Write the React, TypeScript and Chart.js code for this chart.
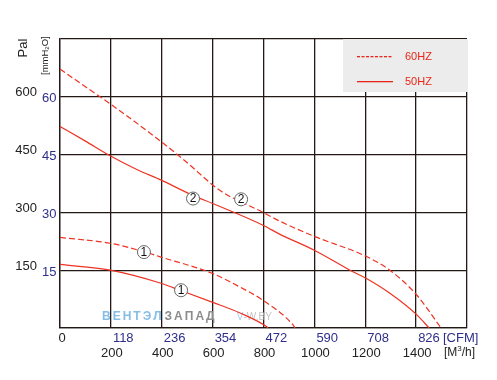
import React, { useEffect, useRef } from "react";
import { Chart, registerables } from "chart.js";
Chart.register(...registerables);

// ---- data ----
const m3hTicks = [200, 400, 600, 800, 1000, 1200, 1400];
const cfmLabels = ["118", "236", "354", "472", "590", "708", "826"];
const mmTicks = [15, 30, 45, 60];
const paLabels = ["150", "300", "450", "600"];

const flow60Hz2 = [0, 100, 197, 397, 491, 629, 798, 865, 999, 1203, 1297, 1403, 1498];
const pres60Hz2 = [67.2, 62.6, 58.2, 48.4, 43.4, 35.7, 30.0, 27.7, 23.8, 18.6, 15.0, 8.5, 0];

const flow50Hz2 = [0, 100, 197, 300, 400, 523, 600, 800, 865, 1000, 1140, 1203, 1297, 1403, 1451];
const pres50Hz2 = [52.3, 48.5, 44.7, 41.2, 38.3, 34.4, 32.3, 26.6, 24.3, 20.2, 15.0, 12.9, 9.0, 3.4, 0];

const flow60Hz1 = [0, 197, 335, 397, 598, 708, 798, 916, 924];
const pres60Hz1 = [23.5, 22.0, 19.7, 18.4, 14.2, 10.6, 7.2, 0.8, 0];

const flow50Hz1 = [0, 197, 397, 472, 598, 708, 813, 818];
const pres50Hz1 = [16.5, 15.0, 11.6, 9.8, 6.7, 3.9, 0.3, 0];

const curveTags = ["2", "2", "1", "1"];
const curveTagFlow = [523, 712, 330, 476];
const curveTagPres = [33.6, 33.4, 19.7, 9.8];

const legendLabels = ["60HZ", "50HZ"];

const RED = "#ee3322";
const GRID = "#231815";
const BLUE = "#2e2e8c";
const FONT = "'Liberation Sans', Arial, sans-serif";

const pts = (xs: number[], ys: number[]) => xs.map((x, i) => ({ x, y: ys[i] }));

const overlay = {
  id: "overlay",
  beforeDatasetsDraw(chart: any) {
    const ctx = chart.ctx;
    const xs = chart.scales.x;
    const ys = chart.scales.y;
    ctx.save();
    ctx.font = `bold 12px ${FONT}`;
    ctx.textBaseline = "middle";
    ctx.textAlign = "left";
    const wy = ys.getPixelForValue(0) - 11;
    let wx = xs.getPixelForValue(165);
    ctx.fillStyle = "#86bde6";
    for (const ch of "ВЕНТЭЛ".split("")) { ctx.fillText(ch, wx, wy); wx += ctx.measureText(ch).width + 2.0; }
    wx += 1;
    ctx.fillStyle = "#8c8c8c";
    for (const ch of "ЗАПАД".split("")) { ctx.fillText(ch, wx, wy); wx += ctx.measureText(ch).width + 2.0; }
    ctx.font = `10px ${FONT}`;
    let vx = xs.getPixelForValue(695);
    ctx.fillStyle = "#a9cdec";
    ctx.fillText("V", vx, wy);
    vx += ctx.measureText("V").width;
    ctx.fillStyle = "#c4c4c4";
    ctx.fillText("-W.BY", vx, wy);
    ctx.restore();
  },
  afterDraw(chart: any) {
    const ctx = chart.ctx;
    const xs = chart.scales.x;
    const ys = chart.scales.y;
    const area = chart.chartArea;
    ctx.save();
    // y labels
    ctx.font = `13px ${FONT}`;
    ctx.textBaseline = "middle";
    mmTicks.forEach((v, i) => {
      const py = ys.getPixelForValue(v);
      ctx.fillStyle = "#222";
      ctx.textAlign = "right";
      ctx.fillText(paLabels[i], 37, py - 4);
      ctx.fillStyle = BLUE;
      ctx.textAlign = "left";
      ctx.fillText(String(v), 42, py + 2);
    });
    // x labels
    const rowCfm = area.bottom + 10;
    const rowM3 = area.bottom + 25;
    ctx.fillStyle = "#222";
    ctx.textAlign = "center";
    ctx.fillText("0", xs.getPixelForValue(0) + 2, rowCfm);
    m3hTicks.forEach((v, i) => {
      const px = xs.getPixelForValue(v);
      ctx.fillStyle = "#222";
      ctx.textAlign = "center";
      ctx.fillText(String(v), px + 1, rowM3);
      ctx.fillStyle = BLUE;
      ctx.textAlign = "left";
      ctx.fillText(cfmLabels[i], px + 2, rowCfm);
    });
    ctx.textAlign = "left";
    ctx.fillStyle = BLUE;
    ctx.fillText("[CFM]", area.right - 24, rowCfm);
    ctx.fillStyle = "#222";
    ctx.font = `12px ${FONT}`;
    const ux = area.right - 23;
    ctx.fillText("[M", ux, rowM3);
    let w = ctx.measureText("[M").width;
    ctx.font = `8px ${FONT}`;
    ctx.fillText("3", ux + w, rowM3 - 4);
    w += ctx.measureText("3").width;
    ctx.font = `12px ${FONT}`;
    ctx.fillText("/h]", ux + w, rowM3);
    // axis titles
    ctx.save();
    ctx.translate(23, 48);
    ctx.rotate(-Math.PI / 2);
    ctx.font = `13px ${FONT}`;
    ctx.fillStyle = "#222";
    ctx.textAlign = "center";
    ctx.fillText("Pal", 0, 0);
    ctx.restore();
    ctx.save();
    ctx.translate(45, 75);
    ctx.rotate(-Math.PI / 2);
    ctx.font = `9.5px ${FONT}`;
    ctx.fillStyle = "#222";
    ctx.textAlign = "left";
    ctx.fillText("[mmH", 0, 0);
    let tw = ctx.measureText("[mmH").width;
    ctx.font = `6px ${FONT}`;
    ctx.fillText("2", tw, 2);
    tw += ctx.measureText("2").width;
    ctx.font = `9.5px ${FONT}`;
    ctx.fillText("O]", tw, 0);
    ctx.restore();
    // legend box
    const bx = Math.round(area.right - 124);
    const by = Math.round(area.top);
    ctx.fillStyle = "#ececec";
    ctx.fillRect(bx, by, 125, 53);
    ctx.fillStyle = "#e8261a";
    for (let dx = 0; dx < 36; dx += 4.5) {
      ctx.fillRect(bx + 14 + dx, by + 17, 3, 1.3);
    }
    ctx.fillRect(bx + 14, by + 42, 36, 1.3);
    ctx.font = `11px ${FONT}`;
    ctx.fillStyle = "#e8261a";
    ctx.textAlign = "left";
    ctx.fillText(legendLabels[0], bx + 62, by + 18);
    ctx.fillText(legendLabels[1], bx + 62, by + 43);
    // curve tags
    curveTags.forEach((t, i) => {
      const px = xs.getPixelForValue(curveTagFlow[i]);
      const py = ys.getPixelForValue(curveTagPres[i]);
      ctx.beginPath();
      ctx.arc(px, py, 6.5, 0, Math.PI * 2);
      ctx.fillStyle = "#ffffff";
      ctx.fill();
      ctx.strokeStyle = "#555";
      ctx.lineWidth = 0.9;
      ctx.stroke();
      ctx.fillStyle = "#111";
      ctx.font = `12px ${FONT}`;
      ctx.textAlign = "center";
      ctx.fillText(t, px, py + 0.5);
    });
    ctx.restore();
  },
};

export default function App() {
  const ref = useRef<HTMLCanvasElement>(null);
  useEffect(() => {
    if (!ref.current) return;
    const ds = (xs: number[], ys: number[], dashed: boolean) => ({
      data: pts(xs, ys),
      borderColor: RED,
      borderWidth: 1.2,
      borderDash: dashed ? [6, 3] : [],
      pointRadius: 0,
      fill: false,
      cubicInterpolationMode: "monotone" as const,
    });
    const chart = new Chart(ref.current, {
      type: "line",
      data: {
        datasets: [
          ds(flow60Hz2, pres60Hz2, true),
          ds(flow50Hz2, pres50Hz2, false),
          ds(flow60Hz1, pres60Hz1, true),
          ds(flow50Hz1, pres50Hz1, false),
        ],
      },
      options: {
        animation: false,
        responsive: false,
        devicePixelRatio: 1,
        layout: { padding: { left: 60, top: 39, right: 30, bottom: 52 } },
        plugins: { legend: { display: false }, tooltip: { enabled: false } },
        scales: {
          x: {
            type: "linear",
            min: 0,
            max: 1600,
            ticks: { display: false, stepSize: 200 },
            grid: { color: GRID, lineWidth: 1.3, drawTicks: false },
            border: { color: GRID, width: 1.3 },
          },
          y: {
            type: "linear",
            min: 0,
            max: 75,
            ticks: { display: false, stepSize: 15 },
            grid: { color: GRID, lineWidth: 1.3, drawTicks: false },
            border: { color: GRID, width: 1.3 },
          },
        },
      },
      plugins: [overlay],
    });
    return () => chart.destroy();
  }, []);
  return (
    <div style={{ position: "fixed", left: 0, top: 0, width: 497, height: 380, background: "#fff" }}>
      <canvas ref={ref} width={497} height={380} />
    </div>
  );
}
